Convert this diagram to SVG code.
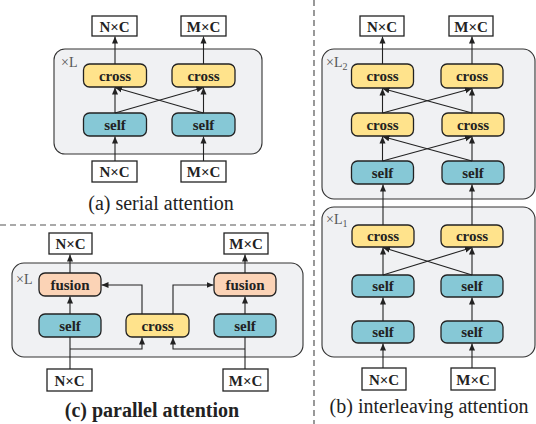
<svg xmlns="http://www.w3.org/2000/svg" width="536" height="424" viewBox="0 0 536 424">
<defs>
<marker id="ah" markerUnits="userSpaceOnUse" markerWidth="8" markerHeight="8" viewBox="0 0 8 8" refX="7" refY="4" orient="auto">
<path d="M0,1 L7,4 L0,7 Z" fill="#222"/>
</marker>
<style>
text{font-family:'Liberation Serif',serif}
.ct{fill:#f0f1f3;stroke:#333;stroke-width:1.1}
.cr{fill:#ffe38c;stroke:#222;stroke-width:1.3}
.sf{fill:#86c8d6;stroke:#222;stroke-width:1.3}
.fu{fill:#fbd3b6;stroke:#222;stroke-width:1.3}
.bx{fill:#fff;stroke:#222;stroke-width:1.3}
.lb{font-weight:bold;font-size:15px;fill:#222;text-anchor:middle}
.tl{font-size:14px;fill:#555}
.cap{font-size:20px;fill:#222;text-anchor:middle}
.ln{fill:none;stroke:#222;stroke-width:1.1}
.ar{fill:none;stroke:#222;stroke-width:1.1;marker-end:url(#ah)}
.dash{stroke:#555;stroke-width:1.2;stroke-dasharray:6 4;fill:none}
</style>
</defs>

<!-- separators -->
<line class="dash" x1="314" y1="0" x2="314" y2="424"/>
<line class="dash" x1="0" y1="225" x2="314" y2="225"/>

<!-- ===== (a) serial ===== -->
<g id="a-container"><rect class="ct" x="54" y="49" width="208" height="105" rx="11"/><text class="tl" x="61" y="67">×L</text></g>
<g id="a-out-n"><rect class="bx" x="92" y="16" width="45" height="20"/><text class="lb" x="114.5" y="31.5">N×C</text></g>
<g id="a-out-m"><rect class="bx" x="181" y="16" width="45" height="20"/><text class="lb" x="203.5" y="31.5">M×C</text></g>
<g id="a-cross-l"><rect class="cr" x="83.5" y="64" width="63" height="23" rx="6"/><text class="lb" x="115" y="80.5">cross</text></g>
<g id="a-cross-r"><rect class="cr" x="172" y="64" width="63" height="23" rx="6"/><text class="lb" x="203.5" y="80.5">cross</text></g>
<g id="a-self-l"><rect class="sf" x="83.5" y="113" width="63" height="23" rx="6"/><text class="lb" x="115" y="129.5">self</text></g>
<g id="a-self-r"><rect class="sf" x="172" y="113" width="63" height="23" rx="6"/><text class="lb" x="203.5" y="129.5">self</text></g>
<g id="a-in-n"><rect class="bx" x="92" y="161" width="45" height="21"/><text class="lb" x="114.5" y="177">N×C</text></g>
<g id="a-in-m"><rect class="bx" x="181" y="161" width="45" height="21"/><text class="lb" x="203.5" y="177">M×C</text></g>
<text class="cap" x="161" y="210">(a) serial attention</text>

<!-- ===== (c) parallel ===== -->
<g id="c-container"><rect class="ct" x="12" y="263" width="291" height="94" rx="12"/><text class="tl" x="16" y="284">×L</text></g>
<g id="c-out-n"><rect class="bx" x="49" y="233" width="43" height="21"/><text class="lb" x="70.5" y="249">N×C</text></g>
<g id="c-out-m"><rect class="bx" x="224" y="233" width="44" height="21"/><text class="lb" x="246" y="249">M×C</text></g>
<g id="c-fusion-l"><rect class="fu" x="39" y="273" width="62" height="23" rx="6"/><text class="lb" x="70" y="289.5">fusion</text></g>
<g id="c-fusion-r"><rect class="fu" x="214" y="273" width="62" height="23" rx="6"/><text class="lb" x="245" y="289.5">fusion</text></g>
<g id="c-self-l"><rect class="sf" x="39" y="314" width="62" height="23" rx="6"/><text class="lb" x="70" y="330.5">self</text></g>
<g id="c-cross"><rect class="cr" x="126" y="314" width="63" height="23" rx="6"/><text class="lb" x="157.5" y="330.5">cross</text></g>
<g id="c-self-r"><rect class="sf" x="214" y="314" width="62" height="23" rx="6"/><text class="lb" x="245" y="330.5">self</text></g>
<g id="c-in-n"><rect class="bx" x="47" y="369" width="45" height="22"/><text class="lb" x="69.5" y="385.5">N×C</text></g>
<g id="c-in-m"><rect class="bx" x="223" y="369" width="45" height="22"/><text class="lb" x="245.5" y="385.5">M×C</text></g>
<text class="cap" x="152" y="417" font-weight="bold">(c) parallel attention</text>

<!-- ===== (b) interleaving ===== -->
<g id="b-container-l2"><rect class="ct" x="322" y="49" width="213" height="150" rx="12"/><text class="tl" x="326" y="67">×L<tspan font-size="10" dy="3">2</tspan></text></g>
<g id="b-container-l1"><rect class="ct" x="322" y="207" width="213" height="150" rx="12"/><text class="tl" x="326" y="224">×L<tspan font-size="10" dy="3">1</tspan></text></g>
<g id="b-out-n"><rect class="bx" x="360" y="16" width="44" height="20"/><text class="lb" x="382" y="31.5">N×C</text></g>
<g id="b-out-m"><rect class="bx" x="449" y="16" width="44" height="20"/><text class="lb" x="471" y="31.5">M×C</text></g>
<g id="b-cross2-l"><rect class="cr" x="351.5" y="64" width="62" height="24" rx="6"/><text class="lb" x="382.5" y="81">cross</text></g>
<g id="b-cross2-r"><rect class="cr" x="441" y="64" width="62" height="24" rx="6"/><text class="lb" x="472" y="81">cross</text></g>
<g id="b-cross1-l"><rect class="cr" x="351.5" y="113" width="62" height="23" rx="6"/><text class="lb" x="382.5" y="129.5">cross</text></g>
<g id="b-cross1-r"><rect class="cr" x="442" y="113" width="62" height="23" rx="6"/><text class="lb" x="473" y="129.5">cross</text></g>
<g id="b-self3-l"><rect class="sf" x="351.5" y="161" width="62" height="23" rx="6"/><text class="lb" x="382.5" y="177.5">self</text></g>
<g id="b-self3-r"><rect class="sf" x="442" y="161" width="62" height="23" rx="6"/><text class="lb" x="473" y="177.5">self</text></g>
<g id="b-cross0-l"><rect class="cr" x="352" y="225" width="62" height="22" rx="6"/><text class="lb" x="383" y="241">cross</text></g>
<g id="b-cross0-r"><rect class="cr" x="441" y="225" width="62" height="22" rx="6"/><text class="lb" x="472" y="241">cross</text></g>
<g id="b-self2-l"><rect class="sf" x="352" y="275" width="62" height="22" rx="6"/><text class="lb" x="383" y="291">self</text></g>
<g id="b-self2-r"><rect class="sf" x="441" y="275" width="62" height="22" rx="6"/><text class="lb" x="472" y="291">self</text></g>
<g id="b-self1-l"><rect class="sf" x="352" y="321" width="62" height="22" rx="6"/><text class="lb" x="383" y="337">self</text></g>
<g id="b-self1-r"><rect class="sf" x="441" y="321" width="62" height="22" rx="6"/><text class="lb" x="472" y="337">self</text></g>
<g id="b-in-n"><rect class="bx" x="362" y="368" width="44" height="22"/><text class="lb" x="384" y="384.5">N×C</text></g>
<g id="b-in-m"><rect class="bx" x="451" y="368" width="44" height="22"/><text class="lb" x="473" y="384.5">M×C</text></g>
<text class="cap" x="429" y="413">(b) interleaving attention</text>

<!-- connectors -->
<g id="connectors">
<!-- (a) -->
<line class="ar" x1="115" y1="64" x2="115" y2="36.5"/>
<line class="ar" x1="203.5" y1="64" x2="203.5" y2="36.5"/>
<line class="ar" x1="115" y1="113" x2="115" y2="87.5"/>
<line class="ar" x1="203.5" y1="113" x2="203.5" y2="87.5"/>
<line class="ar" x1="115" y1="113" x2="203.5" y2="87.5"/>
<line class="ar" x1="203.5" y1="113" x2="115" y2="87.5"/>
<line class="ar" x1="115" y1="161" x2="115" y2="136.5"/>
<line class="ar" x1="203.5" y1="161" x2="203.5" y2="136.5"/>
<!-- (c) -->
<line class="ar" x1="70" y1="273" x2="70" y2="254.5"/>
<line class="ar" x1="245" y1="273" x2="245" y2="254.5"/>
<line class="ar" x1="70" y1="314" x2="70" y2="296.5"/>
<line class="ar" x1="245" y1="314" x2="245" y2="296.5"/>
<line class="ln" x1="70" y1="369" x2="70" y2="337"/>
<line class="ln" x1="245" y1="369" x2="245" y2="337"/>
<polyline class="ar" points="70,349 142,349 142,337.5"/>
<polyline class="ar" points="245,349 173,349 173,337.5"/>
<polyline class="ar" points="142,314 142,285 101.5,285"/>
<polyline class="ar" points="173,314 173,285 213.5,285"/>
<!-- (b) -->
<line class="ar" x1="382.5" y1="64" x2="382.5" y2="36.5"/>
<line class="ar" x1="472" y1="64" x2="472" y2="36.5"/>
<line class="ar" x1="382.5" y1="113" x2="382.5" y2="88.5"/>
<line class="ar" x1="472" y1="113" x2="472" y2="88.5"/>
<line class="ar" x1="382.5" y1="113" x2="472" y2="88.5"/>
<line class="ar" x1="472" y1="113" x2="382.5" y2="88.5"/>
<line class="ar" x1="382.5" y1="161" x2="382.5" y2="136.5"/>
<line class="ar" x1="472" y1="161" x2="472" y2="136.5"/>
<line class="ar" x1="382.5" y1="161" x2="472" y2="136.5"/>
<line class="ar" x1="472" y1="161" x2="382.5" y2="136.5"/>
<line class="ar" x1="383" y1="225" x2="383" y2="184.5"/>
<line class="ar" x1="472" y1="225" x2="472" y2="184.5"/>
<line class="ar" x1="383" y1="275" x2="383" y2="247.5"/>
<line class="ar" x1="472" y1="275" x2="472" y2="247.5"/>
<line class="ar" x1="383" y1="275" x2="472" y2="247.5"/>
<line class="ar" x1="472" y1="275" x2="383" y2="247.5"/>
<line class="ar" x1="383" y1="321" x2="383" y2="297.5"/>
<line class="ar" x1="472" y1="321" x2="472" y2="297.5"/>
<line class="ar" x1="383" y1="368" x2="383" y2="343.5"/>
<line class="ar" x1="472" y1="368" x2="472" y2="343.5"/>
</g>
</svg>
